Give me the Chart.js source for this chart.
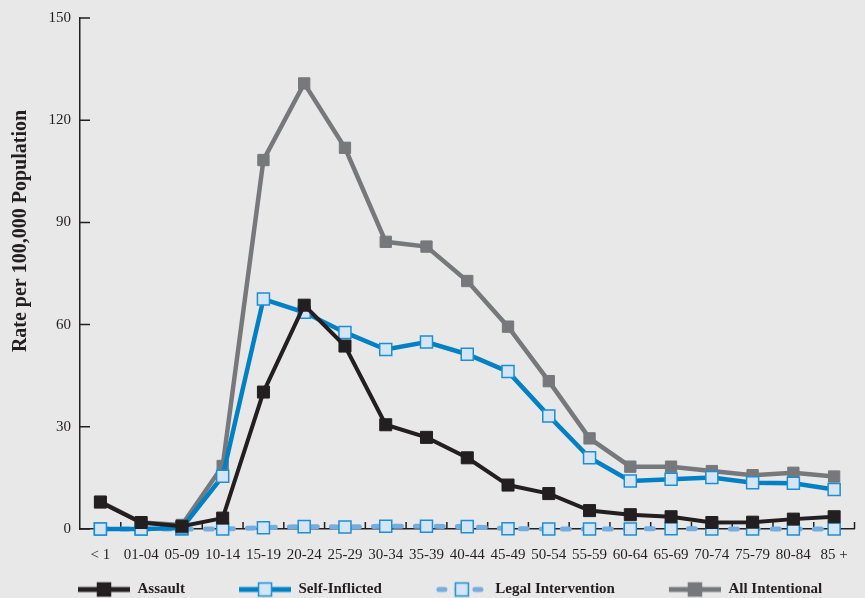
<!DOCTYPE html>
<html>
<head>
<meta charset="utf-8">
<script src="https://cdn.jsdelivr.net/npm/chart.js@4/dist/chart.umd.min.js"></script>
<style>
  body { margin: 0; background: #e8e8e8; }
  canvas { display: block; }
</style>
</head>
<body>
<canvas id="rates" width="865" height="598"></canvas>
<script>
const ageGroups = ['< 1', '01-04', '05-09', '10-14', '15-19', '20-24', '25-29', '30-34', '35-39', '40-44',
  '45-49', '50-54', '55-59', '60-64', '65-69', '70-74', '75-79', '80-84', '85 +'];
const assault = [7.9, 1.9, 0.8, 3.2, 40.2, 65.7, 53.7, 30.6, 26.9, 20.9, 12.9, 10.4, 5.4, 4.2, 3.6, 1.9, 2.0, 2.9, 3.6];
const selfInflicted = [0, 0, 0.3, 15.5, 67.5, 63.6, 57.7, 52.7, 54.9, 51.3, 46.2, 33.2, 20.9, 14.1, 14.6, 15.1, 13.6, 13.4, 11.6];
const legalIntervention = [0, 0, 0, 0, 0.4, 0.7, 0.6, 0.8, 0.8, 0.7, 0.1, 0, 0, 0, 0.1, 0, 0, 0, 0];
const allIntentional = [8.0, 1.9, 1.2, 18.5, 108.3, 130.8, 111.9, 84.3, 82.9, 72.8, 59.4, 43.4, 26.6, 18.3, 18.3, 17.0, 15.8, 16.5, 15.4];
const yTicks = [0, 30, 60, 90, 120, 150];

const ink = '#231f20';
const serif = 'Liberation Serif';

// little line+marker pictures for the legend
function legendSample(color, lw, dash, fill, edge) {
  const c = document.createElement('canvas');
  c.width = 100; c.height = 18;
  const g = c.getContext('2d');
  g.strokeStyle = color;
  g.lineWidth = lw;
  g.lineCap = dash ? 'round' : 'butt';
  g.setLineDash(dash || []);
  g.beginPath();
  if (dash) {
    g.moveTo(51, 9); g.lineTo(99, 9);
  } else {
    g.moveTo(48, 9); g.lineTo(100, 9);
  }
  g.stroke();
  g.setLineDash([]);
  g.fillStyle = fill;
  g.fillRect(67.5, 2.5, 13, 13);
  g.strokeStyle = edge;
  g.lineWidth = 1.5;
  g.strokeRect(67.5, 2.5, 13, 13);
  return c;
}
const samples = [
  legendSample(ink, 5, null, ink, ink),
  legendSample('#0081c6', 5, null, '#d5e5f5', '#1b8fd5'),
  legendSample('#74ade0', 5, [6, 12], '#d5e5f5', '#1b8fd5'),
  legendSample('#77787b', 5, null, '#77787b', '#77787b')
];

const tickMarks = {
  id: 'tickMarks',
  beforeDatasetsDraw(chart) {
    const { ctx, scales: { x, y } } = chart;
    ctx.save();
    ctx.strokeStyle = ink;
    ctx.lineWidth = 1.5;
    ctx.beginPath();
    yTicks.forEach(v => {
      const py = y.getPixelForValue(v);
      ctx.moveTo(x.left, py);
      ctx.lineTo(x.left + 10, py);
    });
    for (let i = 0; i < ageGroups.length; i++) {
      const px = x.getPixelForValue(i + 0.5);
      ctx.moveTo(px, y.bottom);
      ctx.lineTo(px, y.bottom - 7);
    }
    ctx.stroke();
    ctx.restore();
  }
};

const yTitle = {
  id: 'yTitle',
  afterDraw(chart) {
    const ctx = chart.ctx;
    ctx.save();
    ctx.translate(21, 231);
    ctx.rotate(-Math.PI / 2);
    ctx.font = 'bold 20px "' + serif + '"';
    ctx.fillStyle = ink;
    ctx.textAlign = 'center';
    ctx.textBaseline = 'middle';
    ctx.fillText('Rate per 100,000 Population', 0, 0);
    ctx.restore();
  }
};

new Chart(document.getElementById('rates'), {
  type: 'line',
  data: {
    labels: ageGroups,
    datasets: [{
      label: 'Assault',
      data: assault,
      clip: false,
      borderColor: ink,
      borderWidth: 4,
      pointStyle: 'rect',
      pointRadius: 8.5,
      pointBackgroundColor: ink,
      pointBorderColor: ink,
      pointBorderWidth: 1
    }, {
      label: 'Self-Inflicted',
      data: selfInflicted,
      clip: false,
      borderColor: '#0081c6',
      borderWidth: 4.5,
      pointStyle: 'rect',
      pointRadius: 8.5,
      pointBackgroundColor: '#d5e5f5',
      pointBorderColor: '#1b8fd5',
      pointBorderWidth: 1.5
    }, {
      label: 'Legal Intervention',
      data: legalIntervention,
      clip: false,
      borderColor: '#74ade0',
      borderWidth: 5,
      borderDash: [7, 14],
      borderCapStyle: 'round',
      pointStyle: 'rect',
      pointRadius: 8.5,
      pointBackgroundColor: '#d5e5f5',
      pointBorderColor: '#1b8fd5',
      pointBorderWidth: 1.5
    }, {
      label: 'All Intentional',
      data: allIntentional,
      clip: false,
      borderColor: '#77787b',
      borderWidth: 4.5,
      pointStyle: 'rect',
      pointRadius: 8,
      pointBackgroundColor: '#77787b',
      pointBorderColor: '#77787b',
      pointBorderWidth: 1
    }]
  },
  options: {
    responsive: false,
    animation: false,
    layout: { padding: { top: 18, left: 24, right: 3, bottom: 0 } },
    scales: {
      x: {
        offset: true,
        grid: { drawOnChartArea: false, drawTicks: false },
        border: { color: ink, width: 1.5 },
        ticks: {
          color: ink,
          font: { family: serif, size: 15 },
          padding: 17,
          maxRotation: 0,
          autoSkip: false
        },
        afterFit(scale) { scale.height = 47; }
      },
      y: {
        min: 0,
        max: 150,
        grid: { drawOnChartArea: false, drawTicks: false },
        border: { color: ink, width: 1.5 },
        ticks: {
          stepSize: 30,
          color: ink,
          font: { family: serif, size: 15 },
          padding: 9
        },
        afterFit(scale) { scale.width = 56; }
      }
    },
    plugins: {
      tooltip: { enabled: false },
      legend: {
        position: 'bottom',
        align: 'start',
        maxHeight: 22,
        labels: {
          usePointStyle: true,
          pointStyleWidth: 100,
          padding: 6,
          color: ink,
          font: { family: serif, size: 15, weight: 'bold' },
          generateLabels(chart) {
            const items = Chart.defaults.plugins.legend.labels.generateLabels(chart);
            items.forEach((it, i) => { it.pointStyle = samples[i]; });
            return items;
          }
        }
      }
    }
  },
  plugins: [tickMarks, yTitle]
});
</script>
</body>
</html>
